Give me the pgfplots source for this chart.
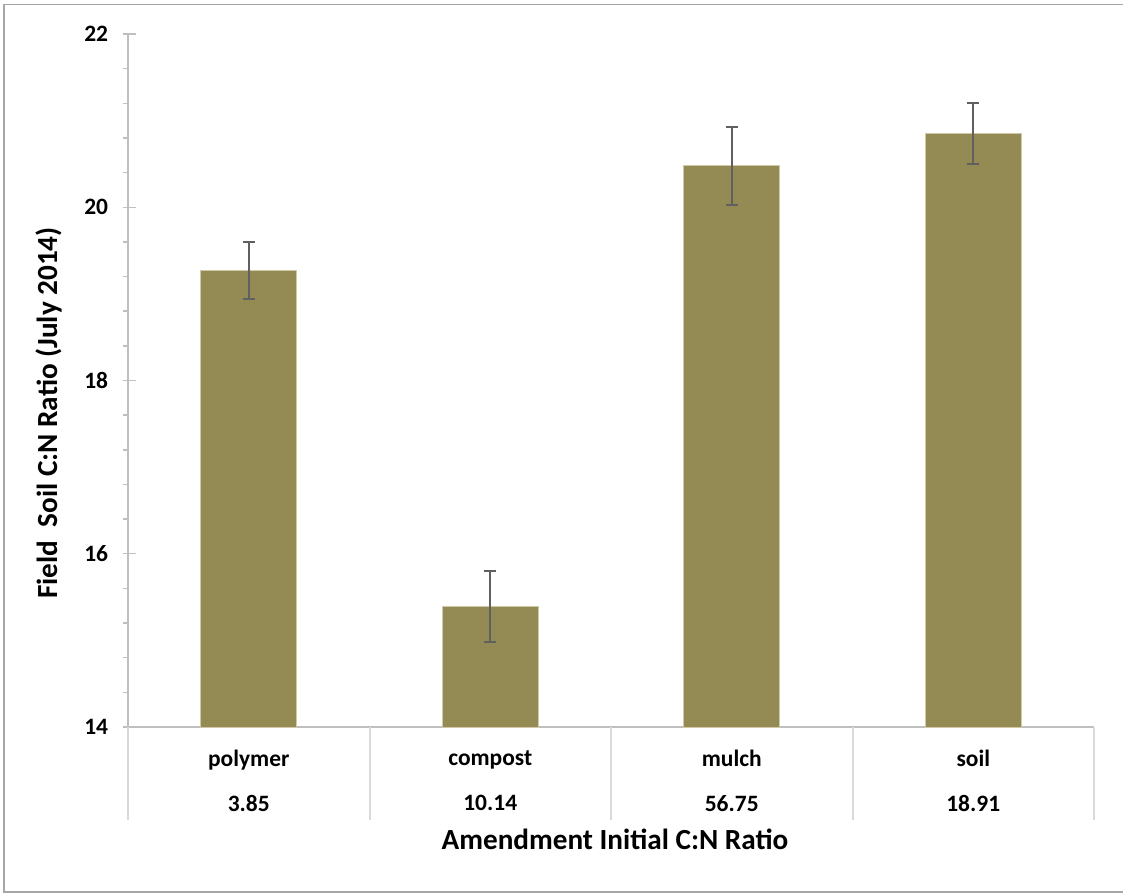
\documentclass[border=0pt]{standalone}
\usepackage{pgfplots}
\pgfplotsset{compat=1.18}
\usepackage{fontspec}
\setmainfont{Carlito}
\definecolor{barfill}{HTML}{948A54}
\definecolor{baredge}{HTML}{CFC9A8}
\definecolor{errc}{HTML}{606060}
\definecolor{axc}{HTML}{BFBFBF}
\definecolor{sepc}{HTML}{D9D9D9}
\definecolor{bordc}{HTML}{A6A6A6}
\begin{document}
\begin{tikzpicture}
\path[use as bounding box] (0,0) rectangle (842.25pt,669.75pt);
\draw[bordc, line width=1.3pt] (842.25pt,666.4pt) -- (3pt,666.4pt) -- (3pt,0.8pt) -- (842.25pt,0.8pt);
\begin{axis}[
  at={(96pt,124.5pt)}, anchor=south west,
  scale only axis, width=724.5pt, height=519.75pt,
  xmin=0, xmax=4, ymin=14, ymax=22,
  clip mode=individual,
  axis lines*=left,
  axis line style={draw=axc, line width=1.1pt, -},
  ytick={14,16,18,20,22},
  minor y tick num=4,
  tick align=outside,
  major tick length=9.75pt,
  minor tick length=3.75pt,
  ytick style={draw=axc, line width=1.1pt},
  every major y tick/.append style={xshift=6pt},
  yticklabel={\fontsize{17.6}{21}\selectfont\bfseries\pgfmathprintnumber[assume math mode=true]{\tick}},
  yticklabel style={inner sep=2pt, xshift=-3pt},
  xtick={0.5,1.5,2.5,3.5},
  xticklabels={{polymer\\3.85},{compost\\10.14},{mulch\\56.75},{soil\\18.91}},
  xtick style={draw=none},
  xticklabel style={align=center, font=\fontsize{17.6}{33.75}\selectfont\bfseries, anchor=north, inner sep=0pt, yshift=-7.5pt},
  ybar, bar width=72pt,
]
\addplot[fill=barfill, draw=baredge, line width=0.75pt,
  error bars/.cd, y dir=both, y explicit,
  error bar style={draw=errc, line width=1.5pt},
  error mark options={draw=errc, rotate=90, mark size=4.5pt, line width=1.5pt}]
coordinates {
  (0.5,19.27) +- (0,0.33)
  (1.5,15.39) +- (0,0.41)
  (2.5,20.48) +- (0,0.45)
  (3.5,20.85) +- (0,0.35)
};
\pgfplotsinvokeforeach{0,1,2,3,4}{
  \draw[sepc, line width=1.5pt] (axis cs:#1,14) -- ([yshift=-69.75pt]axis cs:#1,14);
}
\end{axis}
\node[anchor=base, font=\fontsize{21.9}{26}\selectfont\bfseries] at (461.25pt,33pt) {Amendment Initial C:N Ratio};
\node[anchor=base, rotate=90, font=\fontsize{21.9}{26}\selectfont\bfseries] at (42.75pt,360pt) {Field\ \ Soil C:N Ratio (July 2014)};
\end{tikzpicture}
\end{document}
